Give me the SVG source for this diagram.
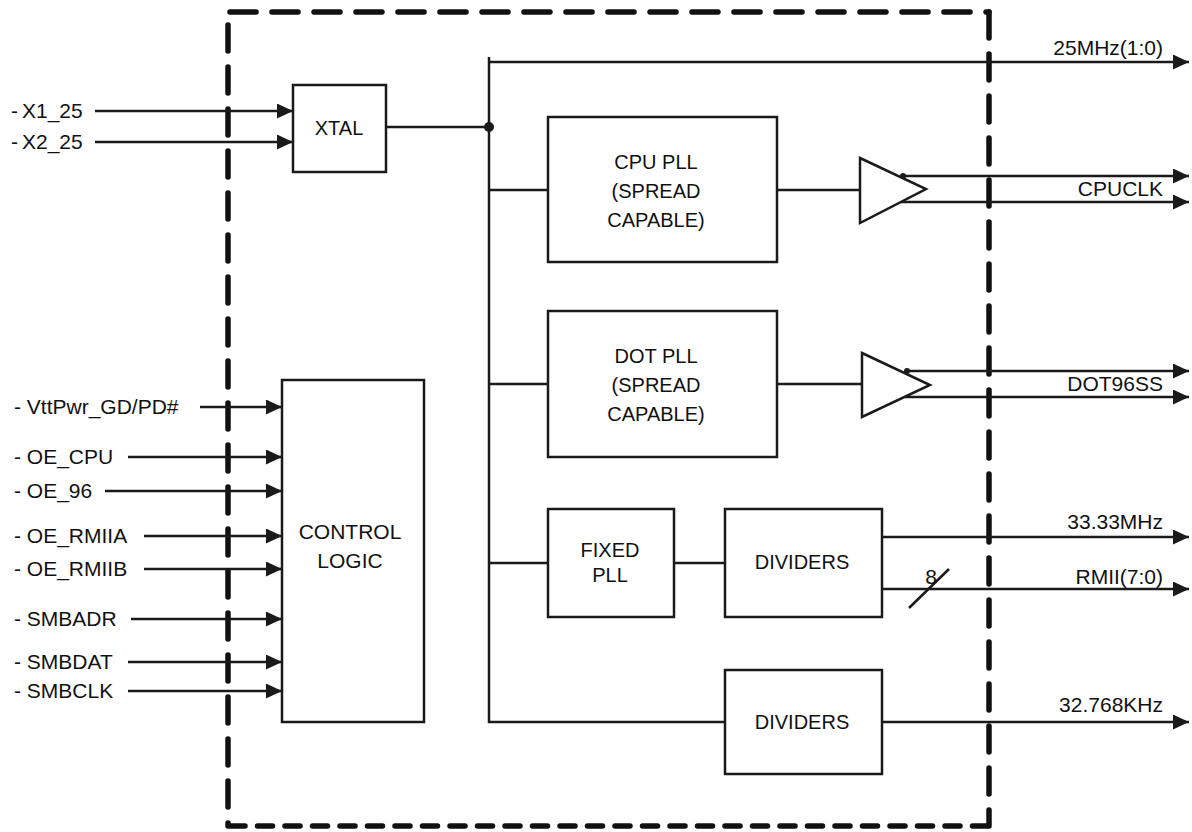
<svg xmlns="http://www.w3.org/2000/svg" width="1192" height="832" viewBox="0 0 1192 832">
<defs>
<style>
text{font-family:"Liberation Sans",Arial,sans-serif;font-size:21px;fill:#111}
.box{fill:#fff;stroke:#1a1a1a;stroke-width:2.5}
.bt{font-size:20px}
.w{fill:none;stroke:#1a1a1a;stroke-width:2.5}
.b{fill:none;stroke:#111;stroke-width:5.5;stroke-linecap:round}
.m{text-anchor:middle}
.e{text-anchor:end}
</style>
<marker id="ah" markerUnits="userSpaceOnUse" markerWidth="17" markerHeight="15" refX="16" refY="7.5" orient="auto">
<path d="M0,0 L16,7.5 L0,15 z" fill="#1a1a1a"/>
</marker>
</defs>
<rect width="1192" height="832" fill="#fff"/>
<g id="border">
<line class="b" x1="230" y1="12" x2="989" y2="12" stroke-dasharray="26 16"/>
<line class="b" x1="228" y1="25" x2="228" y2="826" stroke-dasharray="26 16"/>
<line class="b" x1="989" y1="12" x2="989" y2="826" stroke-dasharray="26 16"/>
<line class="b" x1="230" y1="826" x2="989" y2="826" stroke-dasharray="15 12.5"/>
</g>
<g id="connectors">
<line class="w" x1="95" y1="111" x2="293" y2="111" marker-end="url(#ah)"/>
<line class="w" x1="95" y1="142" x2="293" y2="142" marker-end="url(#ah)"/>
<line class="w" x1="386" y1="127" x2="489" y2="127"/>
<circle cx="489" cy="127" r="5" fill="#1a1a1a"/>
<polyline class="w" points="489,57 489,722 725,722"/>
<line class="w" x1="489" y1="62" x2="1189" y2="62" marker-end="url(#ah)"/>
<line class="w" x1="489" y1="190" x2="548" y2="190"/>
<line class="w" x1="777" y1="190" x2="860" y2="190"/>
<line class="w" x1="489" y1="384" x2="548" y2="384"/>
<line class="w" x1="777" y1="384" x2="862" y2="384"/>
<line class="w" x1="489" y1="563" x2="548" y2="563"/>
<line class="w" x1="674" y1="563" x2="725" y2="563"/>
<line class="w" x1="903" y1="176" x2="1189" y2="176" marker-end="url(#ah)"/>
<line class="w" x1="901" y1="202" x2="1189" y2="202" marker-end="url(#ah)"/>
<circle cx="903" cy="176" r="3" fill="#1a1a1a"/>
<line class="w" x1="907" y1="371" x2="1189" y2="371" marker-end="url(#ah)"/>
<line class="w" x1="905" y1="397" x2="1189" y2="397" marker-end="url(#ah)"/>
<circle cx="907" cy="371" r="3" fill="#1a1a1a"/>
<line class="w" x1="882" y1="537" x2="1189" y2="537" marker-end="url(#ah)"/>
<line class="w" x1="882" y1="589" x2="1189" y2="589" marker-end="url(#ah)"/>
<line class="w" x1="909" y1="608" x2="949" y2="569"/>
<line class="w" x1="882" y1="722" x2="1189" y2="722" marker-end="url(#ah)"/>
<line class="w" x1="200" y1="407" x2="282" y2="407" marker-end="url(#ah)"/>
<line class="w" x1="128" y1="457" x2="282" y2="457" marker-end="url(#ah)"/>
<line class="w" x1="105" y1="491" x2="282" y2="491" marker-end="url(#ah)"/>
<line class="w" x1="144" y1="536" x2="282" y2="536" marker-end="url(#ah)"/>
<line class="w" x1="144" y1="569" x2="282" y2="569" marker-end="url(#ah)"/>
<line class="w" x1="131" y1="619" x2="282" y2="619" marker-end="url(#ah)"/>
<line class="w" x1="128" y1="662" x2="282" y2="662" marker-end="url(#ah)"/>
<line class="w" x1="128" y1="691" x2="282" y2="691" marker-end="url(#ah)"/>
</g>
<g id="labels">
<text x="11" y="118">-<tspan dx="4">X1_25</tspan></text>
<text x="11" y="149">-<tspan dx="4">X2_25</tspan></text>
<text x="14" y="414">- VttPwr_GD/PD#</text>
<text x="14" y="464">- OE_CPU</text>
<text x="14" y="498">- OE_96</text>
<text x="14" y="543">- OE_RMIIA</text>
<text x="14" y="576">- OE_RMIIB</text>
<text x="14" y="626">- SMBADR</text>
<text x="14" y="669">- SMBDAT</text>
<text x="14" y="698">- SMBCLK</text>
<text class="e" x="1163" y="55">25MHz(1:0)</text>
<text class="e" x="1163" y="196">CPUCLK</text>
<text class="e" x="1163" y="391">DOT96SS</text>
<text class="e" x="1163" y="529">33.33MHz</text>
<text class="e" x="1163" y="584">RMII(7:0)</text>
<text class="m" x="931" y="584">8</text>
<text class="e" x="1163" y="712">32.768KHz</text>
</g>
<g id="xtal">
<rect class="box" x="293" y="85" width="93" height="87"/>
<text class="m bt" x="339" y="135">XTAL</text>
</g>
<g id="cpu-pll">
<rect class="box" x="548" y="117" width="229" height="145"/>
<text class="m bt" x="656" y="169">CPU PLL</text>
<text class="m bt" x="656" y="198">(SPREAD</text>
<text class="m bt" x="656" y="227">CAPABLE)</text>
</g>
<g id="cpu-buffer">
<polygon class="box" points="860,158 926,189 860,223"/>
</g>
<g id="dot-pll">
<rect class="box" x="548" y="311" width="229" height="146"/>
<text class="m bt" x="656" y="363">DOT PLL</text>
<text class="m bt" x="656" y="392">(SPREAD</text>
<text class="m bt" x="656" y="421">CAPABLE)</text>
</g>
<g id="dot-buffer">
<polygon class="box" points="862,353 930,385 862,417"/>
</g>
<g id="fixed-pll">
<rect class="box" x="548" y="509" width="126" height="108"/>
<text class="m bt" x="610" y="557">FIXED</text>
<text class="m bt" x="610" y="582">PLL</text>
</g>
<g id="dividers1">
<rect class="box" x="725" y="509" width="157" height="108"/>
<text class="m bt" x="802" y="569">DIVIDERS</text>
</g>
<g id="dividers2">
<rect class="box" x="725" y="670" width="157" height="104"/>
<text class="m bt" x="802" y="729">DIVIDERS</text>
</g>
<g id="control-logic">
<rect class="box" x="282" y="380" width="142" height="342"/>
<text class="m" x="350" y="539">CONTROL</text>
<text class="m" x="350" y="568">LOGIC</text>
</g>
</svg>
